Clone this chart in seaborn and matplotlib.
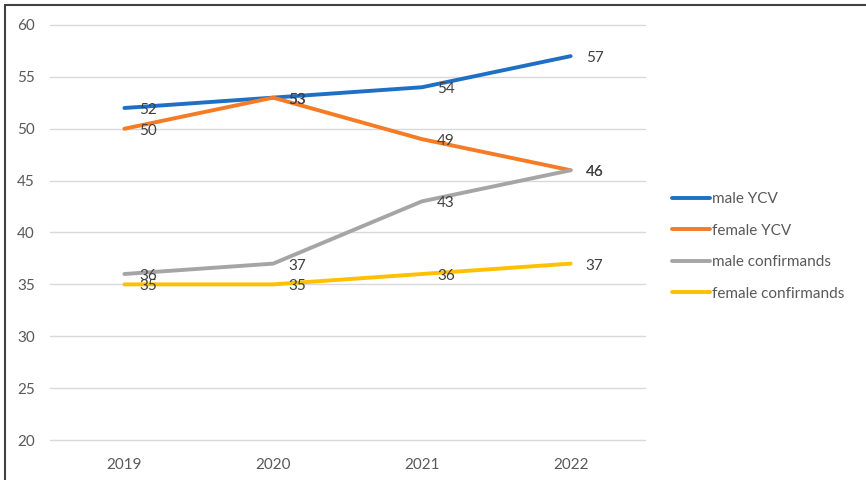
import matplotlib
matplotlib.use("Agg")
import matplotlib.pyplot as plt
import seaborn as sns
import pandas as pd
from matplotlib.lines import Line2D

years = ["2019", "2020", "2021", "2022"]
male_ycv = [52, 53, 54, 57]
female_ycv = [50, 53, 49, 46]
male_confirmands = [36, 37, 43, 46]
female_confirmands = [35, 35, 36, 37]

series_names = ["male YCV", "female YCV", "male confirmands", "female confirmands"]
series_values = [male_ycv, female_ycv, male_confirmands, female_confirmands]
colors = ["#1F70C4", "#F57B24", "#A5A5A5", "#FFC000"]

rows = []
for name, vals in zip(series_names, series_values):
    for i, (yr, v) in enumerate(zip(years, vals)):
        rows.append({"year": yr, "pos": i, "value": v, "series": name})
df = pd.DataFrame(rows)

sns.set_theme(style="white")
plt.rcParams["font.family"] = ["Lato", "DejaVu Sans"]

text_color = "#595959"
fig = plt.figure(figsize=(8.66, 4.8), dpi=100)
ax = fig.add_axes([50 / 866, 1 - 440 / 480, 595 / 866, 415 / 480])

sns.lineplot(data=df, x="pos", y="value", hue="series", hue_order=series_names,
             palette=colors, linewidth=2.8, legend=False, ax=ax,
             solid_capstyle="round", solid_joinstyle="round")

# data labels to the right of each point
for name, vals in zip(series_names, series_values):
    for i, v in enumerate(vals):
        ax.annotate(str(v), (i, v), xytext=(15, -2), textcoords="offset pixels",
                    ha="left", va="center", fontsize=11, color="#404040", zorder=5)

ax.set_xlim(-0.5, 3.5)
ax.set_ylim(20, 60)
ax.set_yticks(range(20, 61, 5))
ax.set_xticks(range(len(years)))
ax.set_xticklabels(years)
ax.set_xlabel("")
ax.set_ylabel("")
ax.grid(axis="y", color="#D9D9D9", linewidth=1)
ax.grid(axis="x", visible=False)
for gl in ax.get_ygridlines():
    gl.set_clip_on(False)
ax.set_axisbelow(True)
for s in ax.spines.values():
    s.set_visible(False)
ax.tick_params(axis="both", length=0, labelsize=11, colors=text_color)
ax.tick_params(axis="y", pad=11)
ax.tick_params(axis="x", pad=13)

handles = [Line2D([0], [0], color=c, linewidth=2.8) for c in colors]
leg = fig.legend(handles, series_names, loc="upper left",
                 bbox_to_anchor=(672 / 866, 1 - 192 / 480), frameon=False,
                 fontsize=11, handlelength=2.5, handletextpad=0.1,
                 labelspacing=1.15, borderpad=0, borderaxespad=0)
for t in leg.get_texts():
    t.set_color(text_color)

# chart frame (left and top edges)
fig.add_artist(Line2D([4.5 / 866, 4.5 / 866], [0, 1 - 4.5 / 480],
                      transform=fig.transFigure, color="#404040", linewidth=1.5))
fig.add_artist(Line2D([4.5 / 866, 1], [1 - 4.5 / 480, 1 - 4.5 / 480],
                      transform=fig.transFigure, color="#404040", linewidth=1.5))

fig.savefig("out.png", dpi=100)
